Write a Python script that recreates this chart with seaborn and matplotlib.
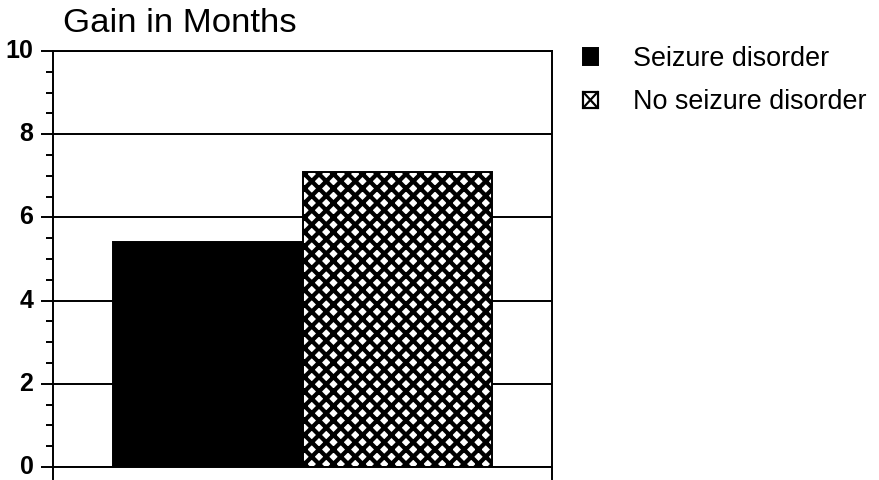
import matplotlib
matplotlib.use("Agg")
import matplotlib.pyplot as plt
import matplotlib.transforms as mtransforms
import seaborn as sns
import pandas as pd
from matplotlib.ticker import MultipleLocator
from matplotlib.patches import Rectangle
from matplotlib.lines import Line2D
from matplotlib.legend_handler import HandlerBase

# Mean gain (months) by group
groups = ["Seizure disorder", "No seizure disorder"]
gain = [5.4, 7.1]
yticks = [0, 2, 4, 6, 8, 10]
ytick_labels = ["0", "2", "4", "6", "8", "10"]
title = "Gain in Months"

DPI = 87.9
W, H = 879, 480

sns.set_theme(style="ticks")
plt.rcParams["font.family"] = ["Liberation Sans", "DejaVu Sans"]
plt.rcParams["text.color"] = "black"
plt.rcParams["hatch.linewidth"] = 3.5
plt.rcParams["hatch.color"] = "black"


class BoxedCrossHandler(HandlerBase):
    """Legend key drawn as a small square with an X inside."""

    def create_artists(self, legend, orig_handle, xdescent, ydescent,
                       width, height, fontsize, trans):
        x0, y0 = -xdescent, -ydescent
        box = Rectangle((x0, y0), width, height, facecolor="white",
                        edgecolor="black", linewidth=1.8, transform=trans)
        d1 = Line2D([x0, x0 + width], [y0, y0 + height], color="black",
                    linewidth=1.8, transform=trans)
        d2 = Line2D([x0, x0 + width], [y0 + height, y0], color="black",
                    linewidth=1.8, transform=trans)
        return [box, d1, d2]


df = pd.DataFrame({"group": groups, "gain": gain})

fig = plt.figure(figsize=(W / DPI, H / DPI), dpi=DPI)
ax = fig.add_axes([53 / W, 13 / H, (552 - 53) / W, (467 - 51) / H])

sns.barplot(data=df, x="group", y="gain", hue="group",
            palette=["black", "white"], saturation=1, width=1.0,
            edgecolor="black", linewidth=1.6, errorbar=None,
            legend=False, ax=ax)

for bar, hatch in zip(ax.patches, ["", "xx"]):
    bar.set_hatch(hatch)

ax.set_xlim(-0.5 - 60 / 189.5, 1.5 + 60 / 189.5)
ax.set_ylim(0, 10)
ax.set_yticks(yticks, labels=ytick_labels, fontweight="bold")
ax.yaxis.set_minor_locator(MultipleLocator(0.5))
ax.tick_params(axis="y", which="major", length=10, width=1.6, direction="out",
               labelsize=20.5, pad=6, color="black", labelcolor="black")
ax.tick_params(axis="y", which="minor", length=6, width=1.6, direction="out",
               color="black")
ax.set_xticks([])
ax.set_xlabel("")
ax.set_ylabel("")

# nudge the value labels up a little so they sit centred on their ticks
lift = mtransforms.ScaledTranslation(0, 2.5 / DPI, fig.dpi_scale_trans)
for lbl in ax.get_yticklabels():
    lbl.set_transform(lbl.get_transform() + lift)

ax.yaxis.grid(True, which="major", color="black", linewidth=1.6)
ax.set_axisbelow(True)

for name, spine in ax.spines.items():
    spine.set_visible(True)
    spine.set_color("black")
    spine.set_linewidth(1.6)
ax.spines["left"].set_bounds(-0.3, 10)
ax.spines["right"].set_bounds(-0.3, 10)

handles = list(ax.patches)
fig.legend(handles=handles, labels=groups, loc="upper left",
           bbox_to_anchor=(583 / W, 1 - 46 / H), frameon=False, fontsize=22,
           handlelength=0.55, handleheight=0.55, handletextpad=1.3,
           labelspacing=0.65, borderpad=0, borderaxespad=0,
           labelcolor="black",
           handler_map={handles[1]: BoxedCrossHandler()})

fig.text(63 / W, 1 - 32 / H, title, fontsize=28.5, ha="left", va="baseline",
         color="black")

fig.savefig("out.png", dpi=DPI, facecolor="white")
